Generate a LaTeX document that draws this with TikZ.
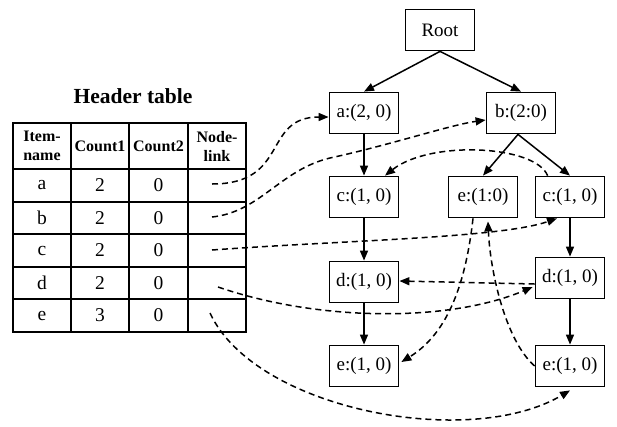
\documentclass[tikz,border=0pt]{standalone}
\usepackage{fontspec}
\setmainfont{Liberation Serif}
\usetikzlibrary{arrows.meta,calc}

\begin{document}
\begin{tikzpicture}[x=1pt,y=-1pt,
  box/.style={draw,line width=1.8pt,minimum width=69pt,minimum height=41pt,inner sep=0pt,font=\fontsize{19}{22}\selectfont},
  tree/.style={line width=1.5pt,-{Triangle[length=10pt,width=8pt]}},
  link/.style={line width=1.5pt,dash pattern=on 6pt off 4pt,-{Triangle[length=10pt,width=8pt]}},
  cell/.style={font=\fontsize{19.5}{22}\selectfont,inner sep=0pt},
  head/.style={font=\bfseries\fontsize{16}{19}\selectfont,align=center,inner sep=0pt},
]
\useasboundingbox (0,0) rectangle (617,426);

% ---- header table ----
\node[font=\bfseries\fontsize{21.5}{24}\selectfont] (title) at (133,96) {Header table};
\draw[line width=2pt] (13,123) rectangle (246,332);
\foreach \y in {169,202,234,267,299} \draw[line width=1.3pt] (13,\y) -- (246,\y);
\foreach \x in {71,129,188} \draw[line width=1.3pt] (\x,123) -- (\x,332);

\node[head] (hitem) at (42,146) {Item-\\name};
\node[head] (hc1) at (100,146) {Count1};
\node[head] (hc2) at (158.5,146) {Count2};
\node[head] (hlink) at (217,146) {Node-\\link};

\foreach \n/\c/\y in {a/2/185.5, b/2/218, c/2/250.5, d/2/283, e/3/315.5}{
  \node[cell] (item\n) at (42,\y) {\n};
  \node[cell] (cA\n) at (100,\y) {\c};
  \node[cell] (cB\n) at (158.5,\y) {0};
}

% link starting points inside the Node-link column
\coordinate (la) at (212,184);
\coordinate (lb) at (212,217);
\coordinate (lc) at (212,250);
\coordinate (ld) at (218,287);
\coordinate (le) at (210,313);

% ---- FP-tree ----
\node[box] (root) at (440,30) {Root};
\node[box] (a)  at (364,113) {a:(2, 0)};
\node[box] (b)  at (521,113) {b:(2:0)};
\node[box] (c1) at (364,197) {c:(1, 0)};
\node[box] (e1) at (483,197) {e:(1:0)};
\node[box] (c2) at (570,197) {c:(1, 0)};
\node[box] (d1) at (364,282) {d:(1, 0)};
\node[box] (d2) at (570,278) {d:(1, 0)};
\node[box] (e3) at (364,366) {e:(1, 0)};
\node[box] (e2) at (570,366) {e:(1, 0)};

\draw[tree] (root.south) -- (a.north);
\draw[tree] (root.south) -- (b.north);
\draw[tree] (a) -- (c1);
\draw[tree] (c1) -- (d1);
\draw[tree] (d1) -- (e3);
\draw[tree] ($(b.south)+(-3,0)$) -- (e1.north);
\draw[tree] ($(b.south)+(-3,0)$) -- (c2.north);
\draw[tree] (c2) -- (d2);
\draw[tree] (d2) -- (e2);

% ---- node links ----
\draw[link] (la) .. controls (290,184) and (262,117) .. ($(a.west)+(0,4)$);
\draw[link] (lb) .. controls (260,212) and (280,170) .. (330,158)
               .. controls (390,145) and (450,125) .. ($(b.west)+(0,7)$);
\draw[link] (lc) .. controls (350,240) and (500,238) .. ($(c2.south)+(-13,0)$);
\draw[link] ($(c2.north west)+(13,0)$) .. controls (535,145) and (430,140) .. ($(c1.north)+(21,0)$);
\draw[link] (ld) .. controls (320,322) and (450,322) .. ($(d2.west)+(-2,9)$);
\draw[link] ($(d2.west)+(0,6)$) -- ($(d1.east)+(0,-1)$);
\draw[link] (le) .. controls (255,410) and (470,450) .. ($(e2.south)+(0,3)$);
\draw[link] ($(e1.south)+(-10,0)$) .. controls (465,290) and (445,335) .. ($(e3.east)+(2,-4)$);
\draw[link] (e2.west) .. controls (505,340) and (490,270) .. ($(e1.south)+(5,3)$);
\end{tikzpicture}
\end{document}
